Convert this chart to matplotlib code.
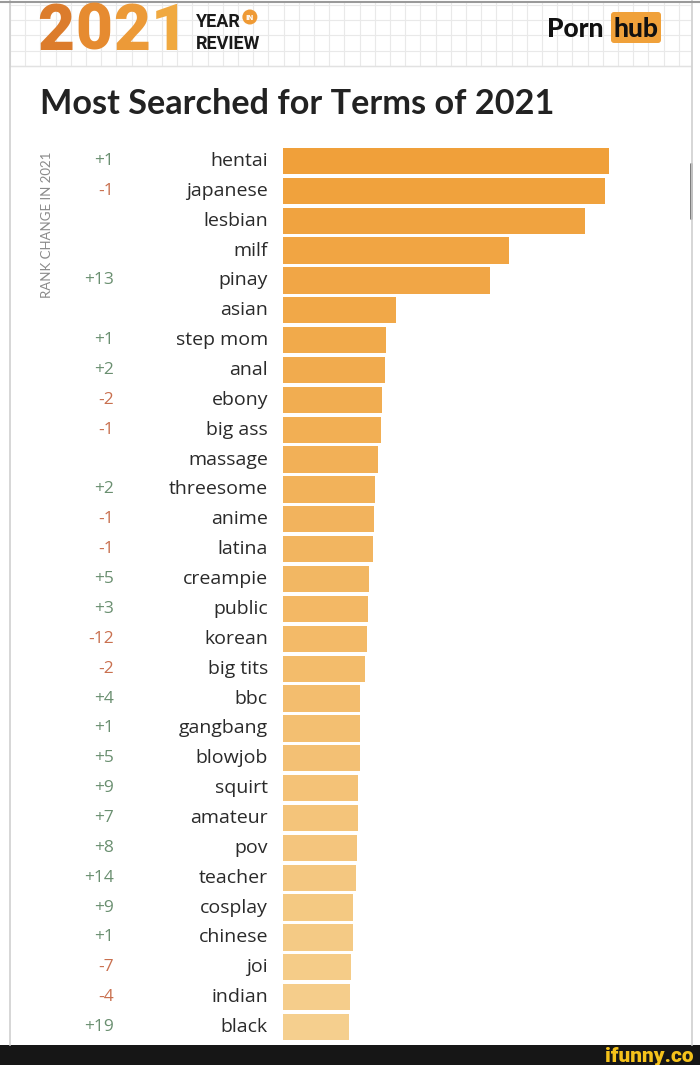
import matplotlib
matplotlib.use("Agg")
import matplotlib.pyplot as plt
import numpy as np
from matplotlib.patches import FancyBboxPatch, Rectangle, Circle
from matplotlib.colors import to_rgb

terms = ["hentai", "japanese", "lesbian", "milf", "pinay", "asian", "step mom", "anal",
         "ebony", "big ass", "massage", "threesome", "anime", "latina", "creampie", "public",
         "korean", "big tits", "bbc", "gangbang", "blowjob", "squirt", "amateur", "pov",
         "teacher", "cosplay", "chinese", "joi", "indian", "black"]
search_volume = [326, 322, 302, 226, 207, 113, 103, 102, 99, 98, 95, 92, 91, 90, 86, 85,
                 84, 82, 77, 77, 77, 75, 75, 74, 73, 70, 70, 68, 67, 66]
rank_change = ["+1", "-1", "", "", "+13", "", "+1", "+2", "-2", "-1", "", "+2", "-1", "-1",
               "+5", "+3", "-12", "-2", "+4", "+1", "+5", "+9", "+7", "+8", "+14", "+9",
               "+1", "-7", "-4", "+19"]

W, H = 700, 1065
fig = plt.figure(figsize=(W / 100, H / 100), dpi=100)
fig.patch.set_facecolor("white")
renderer = fig.canvas.get_renderer()

def fx(px):
    return px / W

def fy(py):
    return 1 - py / H

# background overlay axes in pixel coordinates
bg = fig.add_axes([0, 0, 1, 1])
bg.set_xlim(0, W)
bg.set_ylim(H, 0)
bg.axis("off")

# header grid
for gx in np.arange(10, 692, 15.2):
    bg.plot([gx, gx], [3, 65], color="#e9e9e9", lw=0.8, zorder=0)
for gy in np.arange(5, 66, 15.2):
    bg.plot([10, 690], [gy, gy], color="#e9e9e9", lw=0.8, zorder=0)
bg.plot([10, 690], [66, 66], color="#e2e2e2", lw=1.0)
# frame lines
bg.plot([9.5, 9.5], [0, 1045], color="#cfcfcf", lw=1.2)
bg.plot([691.5, 691.5], [0, 1045], color="#cfcfcf", lw=1.2)
bg.plot([0, W], [1.5, 1.5], color="#9a9a9a", lw=1.5)
# scrollbar
bg.add_patch(FancyBboxPatch((690, 163), 3, 57, boxstyle="round,pad=0,rounding_size=1.5",
                            fc="#7d7d7d", ec="none"))

# header "2021" with a left-to-right orange gradient, one digit at a time
digit_cols = ["#dc7c2c", "#e68b30", "#ec9a38", "#f0a940"]
xcur = 37.0
for ch, col in zip("2021", digit_cols):
    t = bg.text(xcur, 50, ch, fontsize=46, fontweight="black", family="Roboto",
                color=col, ha="left", va="baseline")
    bb = t.get_window_extent(renderer=renderer)
    xcur += bb.width + 1.0

ym_kw = dict(fontweight="bold", color="#1a1a1a", ha="left", va="baseline",
             family="Roboto")
t_year = bg.text(196, 27, "YEAR", fontsize=13, **ym_kw)
bg.text(196, 49, "REVIEW", fontsize=13, **ym_kw)
yb = t_year.get_window_extent(renderer=renderer)
cx = yb.x1 + 9
bg.add_patch(Circle((cx, 17), 7.5, fc="#ef9a35", ec="none"))
bg.text(cx, 17.5, "IN", fontsize=5, color="white", fontweight="bold",
        ha="center", va="center")

bg.text(547, 37, "Porn", fontsize=19, fontweight="black", family="Lato",
        color="#111111", ha="left", va="baseline")
bg.add_patch(FancyBboxPatch((611, 12), 50, 31, boxstyle="round,pad=0,rounding_size=3",
                            fc="#f0a13a", ec="none"))
bg.text(636, 37, "hub", fontsize=19, fontweight="black", family="Lato",
        color="#111111", ha="center", va="baseline")

# title
bg.text(40, 104, "Most Searched for Terms of 2021", fontsize=24.7, fontweight="bold",
        family="Lato", color="#222222", ha="left", va="center")

# rotated label
bg.text(47, 225, "RANK CHANGE IN 2021", rotation=90, fontsize=9.5, color="#8a8a8a",
        family="Lato", ha="center", va="center")

# bottom black band
bg.add_patch(Rectangle((0, 1045), W, 20, fc="#161616", ec="none"))
bg.text(693, 1057, "ifunny.co", fontsize=15, fontweight="heavy", color="#f5c21b",
        family="Roboto", ha="right", va="center")

# bar axes
n = len(terms)
row_top, row_bot = 161, 1027
step = (row_bot - row_top) / (n - 1)
ax_top = row_top - step / 2
ax_bot = row_bot + step / 2
ax_left, ax_right = 283, 640
ax = fig.add_axes([fx(ax_left), fy(ax_bot), fx(ax_right - ax_left), (ax_bot - ax_top) / H])
ax.set_xlim(0, ax_right - ax_left)
ax.set_ylim(n - 0.5, -0.5)
ax.axis("off")

c0 = np.array(to_rgb("#f0a03a"))
c1 = np.array(to_rgb("#f5cf8e"))
colors = [tuple(c0 + (c1 - c0) * i / (n - 1)) for i in range(n)]
ypos = np.arange(n)
ax.barh(ypos, search_volume, height=0.88, color=colors, edgecolor="none")

for i, (t, rc) in enumerate(zip(terms, rank_change)):
    py = row_top + i * step
    bg.text(268, py, t, fontsize=14, family="Open Sans", color="#2a2a2a",
            ha="right", va="center")
    if rc:
        col = "#6a8f70" if rc.startswith("+") else "#c9704f"
        bg.text(114, py, rc, fontsize=12.5, family="Open Sans",
                color=col, ha="right", va="center")

fig.savefig("out.png", dpi=100, facecolor="white")
